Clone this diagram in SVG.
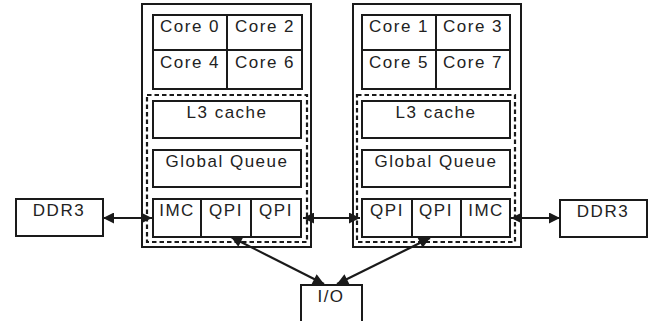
<svg xmlns="http://www.w3.org/2000/svg" width="664" height="321" viewBox="0 0 664 321">
<style>
.b{fill:#fff;stroke:#1a1a1a;stroke-width:2}
.n{fill:none;stroke:#1a1a1a;stroke-width:2}
.d{fill:none;stroke:#1a1a1a;stroke-width:2.2;stroke-dasharray:4.5 3}
.t{font-family:"Liberation Sans",Arial,sans-serif;font-size:17px;letter-spacing:1.5px;fill:#222;text-anchor:middle}
.c{stroke:#1a1a1a;stroke-width:2.2;fill:none;marker-start:url(#a);marker-end:url(#a)}
</style>
<defs>
<marker id="a" viewBox="0 0 10 10" refX="10" refY="5" markerWidth="5.5" markerHeight="5" orient="auto-start-reverse" markerUnits="strokeWidth">
<path d="M0,0 L10,5 L0,10 z" fill="#1a1a1a"/>
</marker>
</defs>
<g id="chip0">
<rect class="b" x="142" y="4" width="169" height="243"/>
<rect class="n" x="153" y="15" width="149" height="74"/>
<line class="n" x1="227" y1="15" x2="227" y2="89"/>
<line class="n" x1="153" y1="50" x2="302" y2="50"/>
<text class="t" x="190" y="32">Core 0</text>
<text class="t" x="265" y="32">Core 2</text>
<text class="t" x="190" y="68">Core 4</text>
<text class="t" x="265" y="68">Core 6</text>
<rect class="d" x="147" y="95" width="160" height="147"/>
<rect class="n" x="153" y="101" width="148" height="37"/>
<text class="t" x="227" y="118">L3 cache</text>
<rect class="n" x="153" y="150" width="148" height="37"/>
<text class="t" x="227" y="167">Global Queue</text>
<rect class="n" x="153" y="199" width="148" height="38"/>
<line class="n" x1="201" y1="199" x2="201" y2="237"/>
<line class="n" x1="251" y1="199" x2="251" y2="237"/>
<text class="t" x="177" y="216">IMC</text>
<text class="t" x="226" y="216">QPI</text>
<text class="t" x="276" y="216">QPI</text>
</g>
<g id="chip1">
<rect class="b" x="353" y="4" width="168" height="243"/>
<rect class="n" x="362" y="15" width="148" height="74"/>
<line class="n" x1="436" y1="15" x2="436" y2="89"/>
<line class="n" x1="362" y1="50" x2="510" y2="50"/>
<text class="t" x="399" y="32">Core 1</text>
<text class="t" x="473" y="32">Core 3</text>
<text class="t" x="399" y="68">Core 5</text>
<text class="t" x="473" y="68">Core 7</text>
<rect class="d" x="357" y="95" width="158" height="147"/>
<rect class="n" x="362" y="101" width="148" height="37"/>
<text class="t" x="436" y="118">L3 cache</text>
<rect class="n" x="362" y="150" width="148" height="37"/>
<text class="t" x="436" y="167">Global Queue</text>
<rect class="n" x="362" y="199" width="148" height="38"/>
<line class="n" x1="412" y1="199" x2="412" y2="237"/>
<line class="n" x1="461" y1="199" x2="461" y2="237"/>
<text class="t" x="387" y="216">QPI</text>
<text class="t" x="436" y="216">QPI</text>
<text class="t" x="486" y="216">IMC</text>
</g>
<g id="ddr3-left">
<rect class="b" x="16" y="199" width="87" height="37"/>
<text class="t" x="59" y="216">DDR3</text>
</g>
<g id="ddr3-right">
<rect class="b" x="560" y="200" width="87" height="37"/>
<text class="t" x="603" y="217">DDR3</text>
</g>
<g id="io">
<path class="b" d="M301,323 L301,285 L362,285 L362,323"/>
<text class="t" x="331" y="302">I/O</text>
</g>
<g id="connectors">
<line class="c" x1="103" y1="218" x2="152" y2="218"/>
<line class="c" x1="303" y1="218" x2="360" y2="218"/>
<line class="c" x1="511" y1="218" x2="560" y2="218"/>
<line class="c" x1="231" y1="237" x2="324" y2="284"/>
<line class="c" x1="430" y1="238" x2="337" y2="284"/>
</g>
</svg>
